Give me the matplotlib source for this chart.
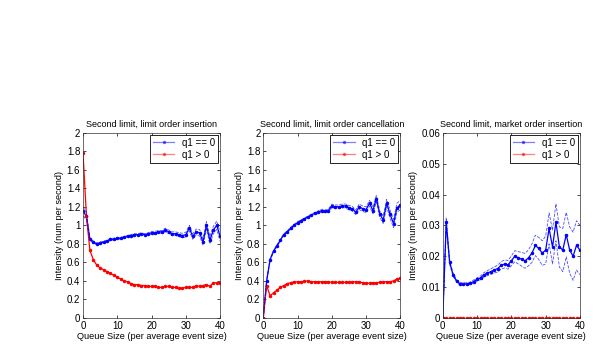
import matplotlib
matplotlib.use("Agg")
import matplotlib.pyplot as plt
from matplotlib.ticker import FuncFormatter

plt.rcParams['font.family'] = ['Liberation Sans', 'DejaVu Sans']

# queue sizes 0..40
queue_size = list(range(41))

titles = ['Second limit, limit order insertion',
          'Second limit, limit order cancellation',
          'Second limit, market order insertion']

# -- panel 1: limit order insertion
ins_q0 = [1.15, 1.10, 0.85, 0.82, 0.80, 0.81, 0.82, 0.83, 0.85, 0.85,
          0.86, 0.86, 0.87, 0.88, 0.89, 0.90, 0.90, 0.91, 0.90, 0.91,
          0.92, 0.92, 0.93, 0.93, 0.95, 0.93, 0.91, 0.91, 0.90, 0.89,
          0.90, 0.97, 0.88, 0.93, 0.92, 0.82, 1.00, 0.84, 0.95, 1.00, 0.88]
ins_q0_ci = [0.05, 0.04, 0.01, 0.01, 0.01, 0.01, 0.01, 0.01, 0.01, 0.01,
             0.01, 0.01, 0.01, 0.01, 0.01, 0.01, 0.01, 0.01, 0.01, 0.01,
             0.015, 0.015, 0.015, 0.015, 0.02, 0.02, 0.02, 0.02, 0.02, 0.025,
             0.025, 0.03, 0.03, 0.03, 0.035, 0.035, 0.04, 0.04, 0.04, 0.045, 0.05]
ins_q1 = [1.78, 1.10, 0.73, 0.63, 0.57, 0.54, 0.52, 0.50, 0.48, 0.46,
          0.44, 0.42, 0.40, 0.39, 0.37, 0.36, 0.36, 0.35, 0.35, 0.34,
          0.34, 0.34, 0.33, 0.33, 0.34, 0.34, 0.33, 0.33, 0.32, 0.32,
          0.33, 0.33, 0.33, 0.35, 0.34, 0.35, 0.36, 0.34, 0.38, 0.38, 0.38]

# -- panel 2: limit order cancellation
can_q0 = [0.00, 0.40, 0.63, 0.72, 0.78, 0.84, 0.90, 0.93, 0.97, 1.00,
          1.03, 1.05, 1.07, 1.09, 1.11, 1.13, 1.14, 1.16, 1.15, 1.16,
          1.21, 1.20, 1.20, 1.21, 1.21, 1.19, 1.18, 1.14, 1.20, 1.18,
          1.17, 1.24, 1.16, 1.29, 1.12, 1.06, 1.24, 1.12, 1.02, 1.19, 1.22]
can_q0_ci = [0.00, 0.01, 0.01, 0.01, 0.01, 0.01, 0.01, 0.01, 0.01, 0.01,
             0.01, 0.01, 0.01, 0.01, 0.01, 0.01, 0.015, 0.015, 0.015, 0.015,
             0.02, 0.02, 0.02, 0.02, 0.02, 0.025, 0.025, 0.025, 0.03, 0.03,
             0.03, 0.03, 0.035, 0.035, 0.035, 0.04, 0.04, 0.045, 0.045, 0.05, 0.05]
can_q1 = [0.00, 0.35, 0.24, 0.27, 0.30, 0.33, 0.35, 0.37, 0.38, 0.39,
          0.39, 0.39, 0.395, 0.40, 0.39, 0.39, 0.39, 0.39, 0.39, 0.39,
          0.385, 0.385, 0.385, 0.385, 0.385, 0.385, 0.39, 0.39, 0.39, 0.38,
          0.375, 0.375, 0.38, 0.38, 0.385, 0.39, 0.39, 0.39, 0.40, 0.42, 0.43]

# -- panel 3: market order insertion
mkt_q0 = [0.000, 0.031, 0.018, 0.014, 0.012, 0.011, 0.011, 0.011, 0.0112, 0.0118,
          0.0125, 0.013, 0.014, 0.0145, 0.015, 0.0155, 0.016, 0.017, 0.0175, 0.0172,
          0.0185, 0.020, 0.0195, 0.019, 0.0185, 0.0195, 0.021, 0.0235, 0.0225, 0.021,
          0.022, 0.029, 0.023, 0.031, 0.023, 0.022, 0.027, 0.022, 0.020, 0.0235, 0.022]
mkt_q0_ci = [0.0, 0.0015, 0.0006, 0.0005, 0.0004, 0.0004, 0.0004, 0.0004, 0.0004, 0.0005,
             0.0005, 0.0006, 0.0007, 0.0008, 0.0009, 0.001, 0.0011, 0.0012, 0.0013, 0.0014,
             0.0016, 0.0018, 0.002, 0.0022, 0.0024, 0.0026, 0.003, 0.0033, 0.0036, 0.004,
             0.0045, 0.005, 0.0055, 0.006, 0.0065, 0.007, 0.0072, 0.0075, 0.0078, 0.008, 0.008]
mkt_q1 = [0.0] * 41

panels = [(ins_q0, ins_q0_ci, ins_q1, 2.0, 0.2),
          (can_q0, can_q0_ci, can_q1, 2.0, 0.2),
          (mkt_q0, mkt_q0_ci, mkt_q1, 0.06, 0.01)]

fig = plt.figure(figsize=(6.15, 3.58), dpi=100)
lefts = [0.135, 0.428, 0.720]

for k, (q0, ci, q1, ymax, ystep) in enumerate(panels):
    ax = fig.add_axes([lefts[k], 0.112, 0.223, 0.517])
    lo = [v - c for v, c in zip(q0, ci)]
    hi = [v + c for v, c in zip(q0, ci)]
    ax.plot(queue_size, q0, color='blue', lw=0.9, marker='.', ms=3, label='q1 == 0')
    ax.plot(queue_size, q1, color='red', lw=0.9, marker='.', ms=3, label='q1 > 0')
    ax.plot(queue_size, lo, color='blue', lw=0.6, ls='--', alpha=0.7)
    ax.plot(queue_size, hi, color='blue', lw=0.6, ls='--', alpha=0.7)

    ax.set_xlim(0, 40)
    ax.set_ylim(0, ymax)
    ax.set_xticks([0, 10, 20, 30, 40])
    n = int(round(ymax / ystep))
    ax.set_yticks([i * ystep for i in range(n + 1)])
    ax.yaxis.set_major_formatter(FuncFormatter(lambda v, p: '%g' % round(v, 4)))
    ax.tick_params(direction='in', top=True, right=True, labelsize=7,
                   length=2.5, width=0.5, pad=2)
    for s in ax.spines.values():
        s.set_linewidth(0.5)
        s.set_edgecolor('#333333')
    ax.set_title(titles[k], fontsize=6.5, pad=4)
    ax.set_xlabel('Queue Size (per average event size)', fontsize=6.6, labelpad=1)
    ax.set_ylabel('Intensity (num per second)', fontsize=6.6, labelpad=2)
    leg = ax.legend(loc='upper right', fontsize=7, fancybox=False,
                    edgecolor='black', framealpha=1, handlelength=2.2,
                    borderpad=0.3, labelspacing=0.2, handletextpad=0.8,
                    borderaxespad=0.2, numpoints=1)
    leg.get_frame().set_linewidth(0.6)
    for h in leg.get_lines():
        h.set_alpha(0.5)

fig.savefig('out.png', dpi=100)
